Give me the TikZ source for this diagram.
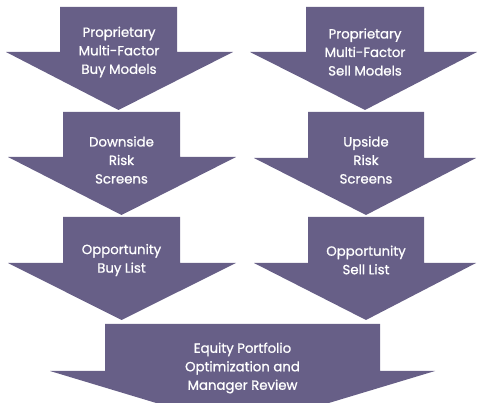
\documentclass[tikz,border=0pt]{standalone}
\usepackage{fontspec}
\setmainfont{Poppins}
\newfontfamily\labelfont{Poppins}[FakeBold=0.9]
\definecolor{arrowfill}{RGB}{103,95,135}
\tikzset{
  arrowshape/.style={fill=arrowfill, draw=none},
  label/.style={text=white, align=center, font=\labelfont\fontsize{13.3}{18.5}\selectfont, inner sep=0pt}
}
% #1 shaft left, #2 shaft right, #3 shaft top, #4 head top, #5 head left, #6 head right, #7 tip y
\newcommand{\dnarrowshape}[7]{%
  \fill[arrowshape] (#1,#3) -- (#2,#3) -- (#2,#4) -- (#6,#4) -- ({(#1+#2)/2},#7) -- (#5,#4) -- (#1,#4) -- cycle;}
\begin{document}
\begin{tikzpicture}[x=1pt,y=-1pt]
\useasboundingbox (0,0) rectangle (477,403);
\clip (0,0) rectangle (477,403);
% top row
\dnarrowshape{60}{177}{7}{52}{6}{233}{110}
\dnarrowshape{306}{424}{7}{52}{250}{477}{110}
% middle row
\dnarrowshape{63}{180}{112}{157}{8}{236}{215}
\dnarrowshape{308}{424}{112}{158}{254}{476}{215}
% third row
\dnarrowshape{63}{180}{217}{263}{8}{236}{320}
\dnarrowshape{308}{424}{217}{263}{254}{476}{320}
% bottom
\dnarrowshape{105}{380}{324}{371}{50}{435}{429}
% labels
\node[label] (buymodels) at (119,52) {Proprietary\\Multi-Factor\\Buy Models};
\node[label] (sellmodels) at (365,52) {Proprietary\\Multi-Factor\\Sell Models};
\node[label] (downside) at (121.5,160) {Downside\\Risk\\Screens};
\node[label] (upside) at (366,160) {Upside\\Risk\\Screens};
\node[label] (buylist) at (121.5,260) {Opportunity\\Buy List};
\node[label] (selllist) at (366,260) {Opportunity\\Sell List};
\node[label] (review) at (242.5,368) {Equity Portfolio\\Optimization and\\Manager Review};
\end{tikzpicture}
\end{document}
